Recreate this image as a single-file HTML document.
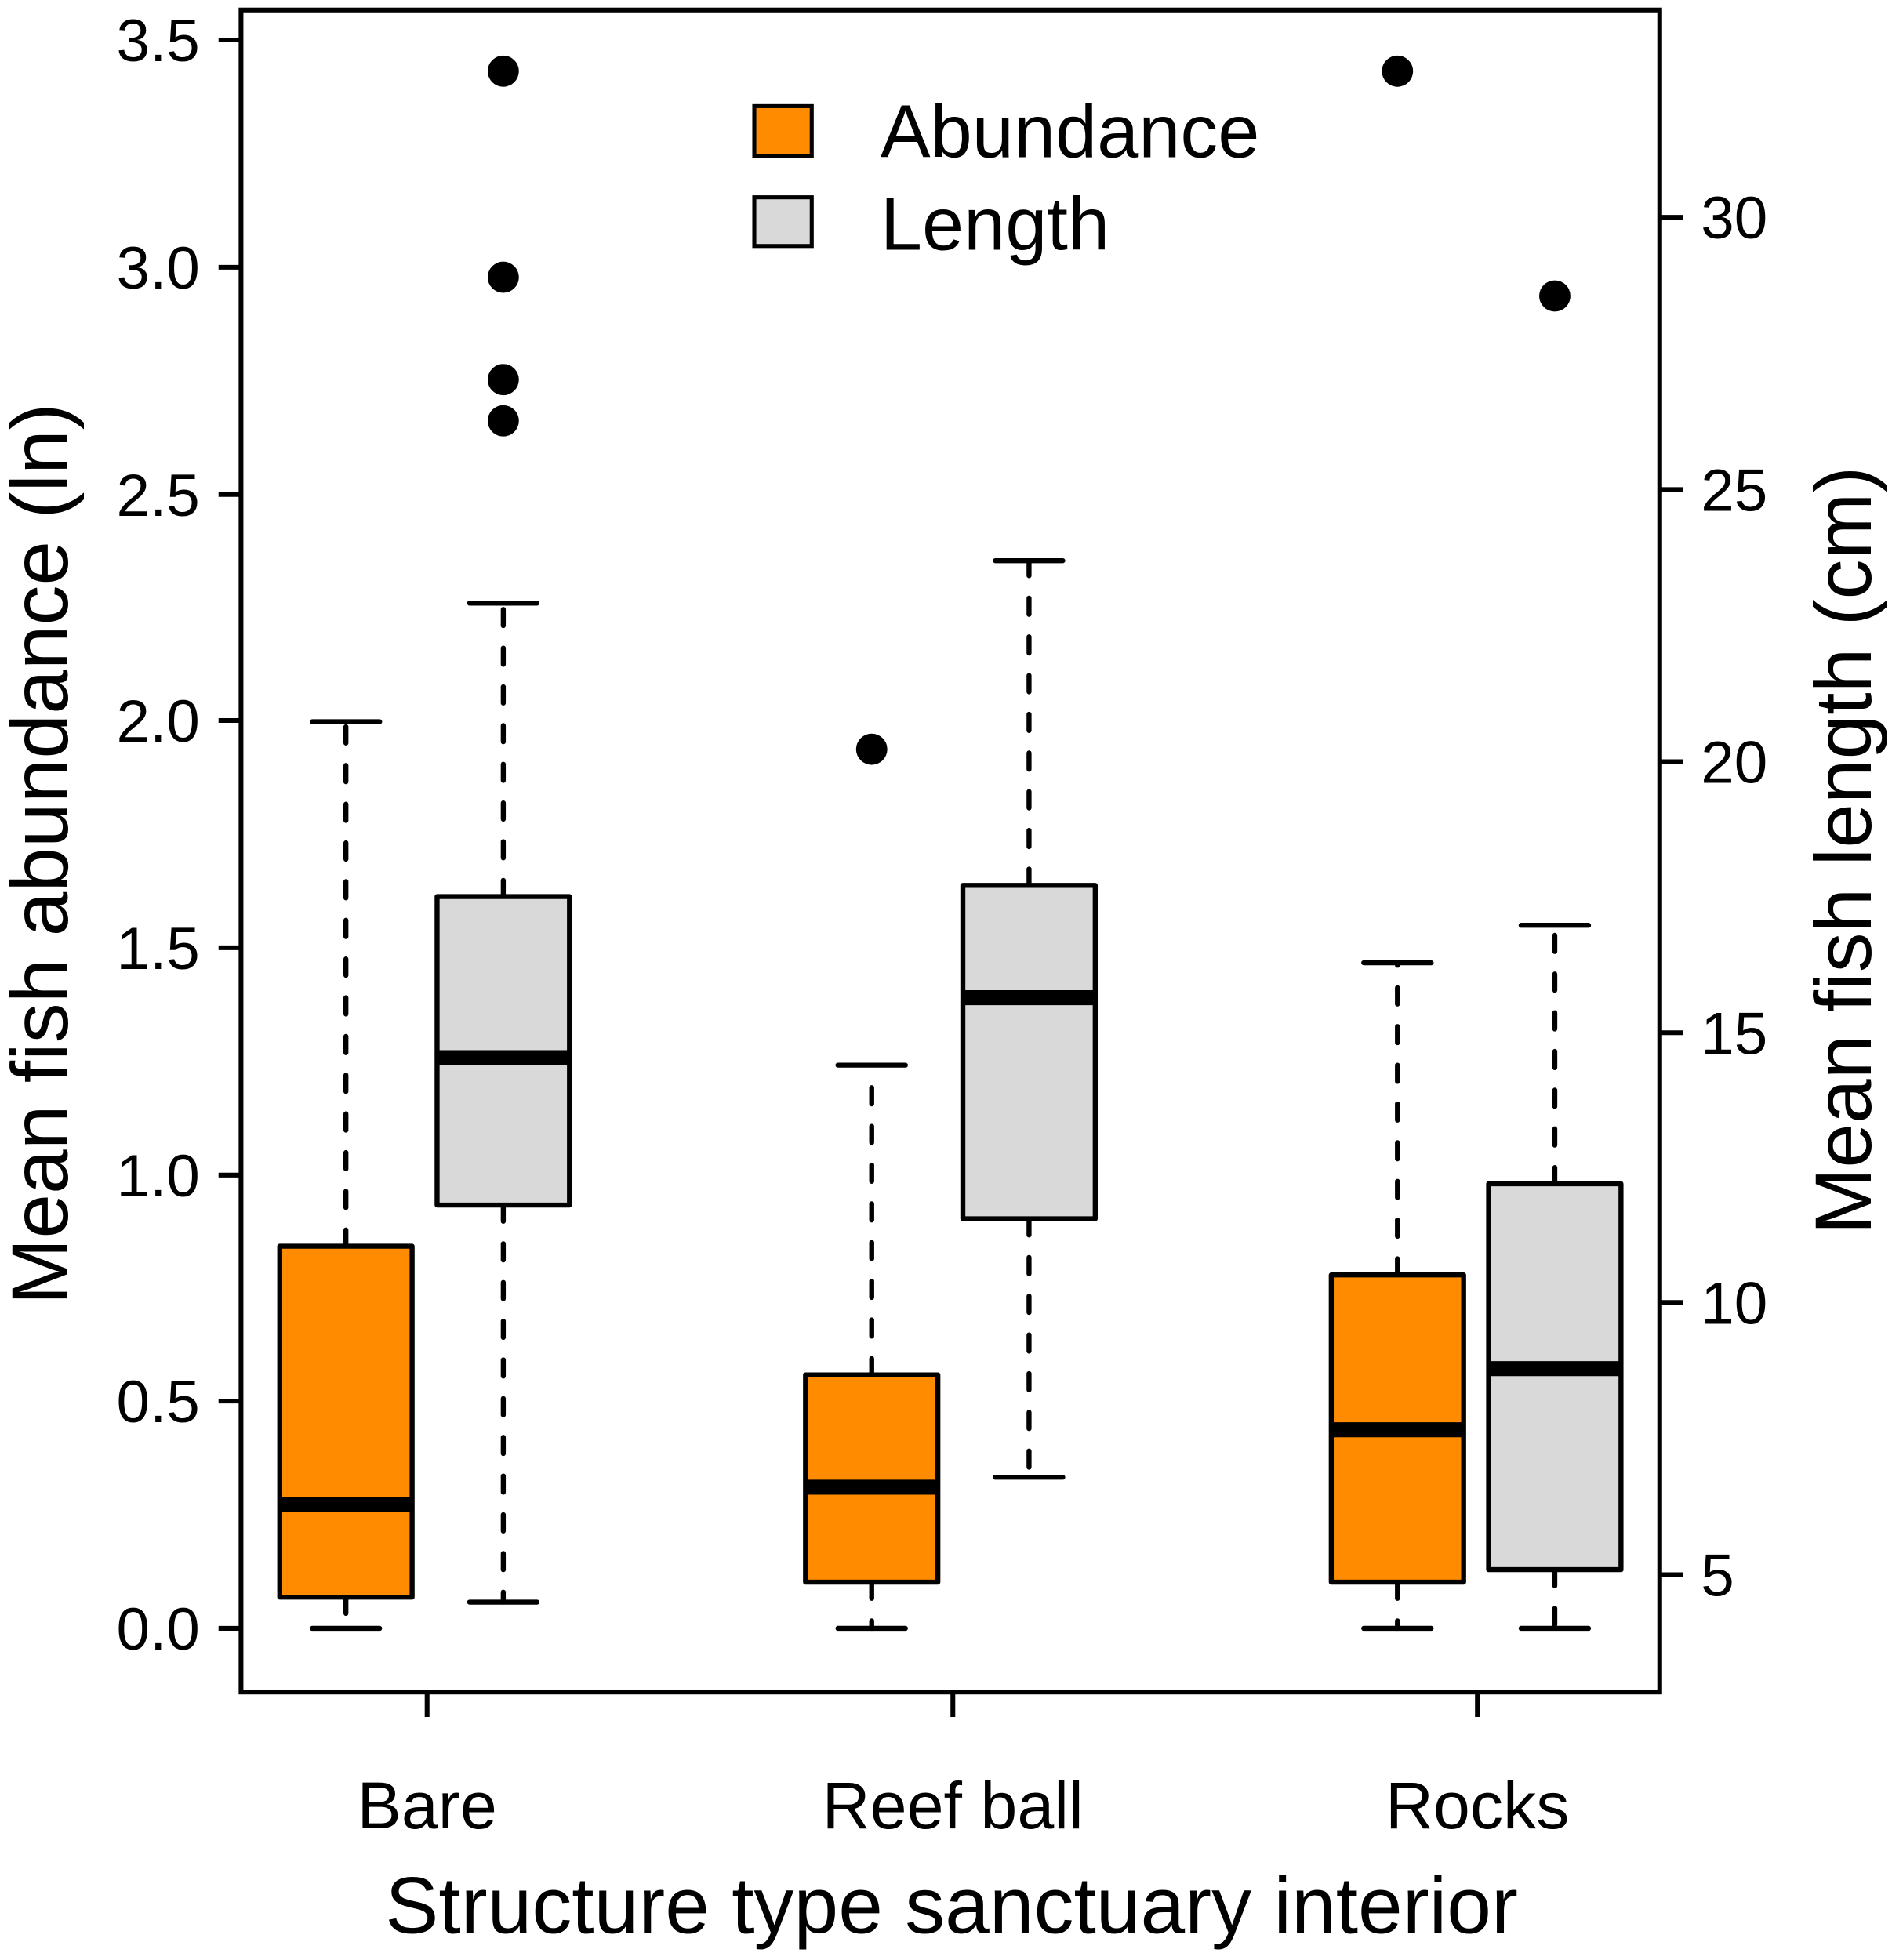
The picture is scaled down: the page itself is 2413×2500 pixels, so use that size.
<!DOCTYPE html>
<html><head><meta charset="utf-8"><style>html,body{margin:0;padding:0;background:#fff}svg{display:block}</style></head>
<body>
<svg width="2413" height="2500" viewBox="0 0 1515 1569.6" preserveAspectRatio="none" xmlns="http://www.w3.org/2000/svg" font-family="Liberation Sans, Arial, sans-serif">
<rect x="193" y="8" width="1136" height="1347" fill="none" stroke="#000" stroke-width="3.8"/>
<g stroke="#000" stroke-width="3.8">
<line x1="175" y1="1304" x2="193" y2="1304"/><line x1="175" y1="1122" x2="193" y2="1122"/><line x1="175" y1="941" x2="193" y2="941"/><line x1="175" y1="759" x2="193" y2="759"/><line x1="175" y1="577" x2="193" y2="577"/><line x1="175" y1="396" x2="193" y2="396"/><line x1="175" y1="214" x2="193" y2="214"/><line x1="175" y1="32" x2="193" y2="32"/>
<line x1="1329" y1="1261" x2="1348" y2="1261"/><line x1="1329" y1="1043" x2="1348" y2="1043"/><line x1="1329" y1="827" x2="1348" y2="827"/><line x1="1329" y1="610" x2="1348" y2="610"/><line x1="1329" y1="392" x2="1348" y2="392"/><line x1="1329" y1="174" x2="1348" y2="174"/>
<line x1="342" y1="1355" x2="342" y2="1375"/><line x1="763" y1="1355" x2="763" y2="1375"/><line x1="1183" y1="1355" x2="1183" y2="1375"/>
</g>
<g font-size="48" text-anchor="end">
<text x="160" y="1321">0.0</text><text x="160" y="1139">0.5</text><text x="160" y="958">1.0</text><text x="160" y="776">1.5</text><text x="160" y="594">2.0</text><text x="160" y="413">2.5</text><text x="160" y="231">3.0</text><text x="160" y="49">3.5</text>
</g>
<g font-size="48">
<text x="1362" y="1278">5</text><text x="1362" y="1060">10</text><text x="1362" y="844">15</text><text x="1362" y="627">20</text><text x="1362" y="409">25</text><text x="1362" y="191">30</text>
</g>
<g font-size="53" text-anchor="middle">
<text x="342" y="1464">Bare</text><text x="763" y="1464">Reef ball</text><text x="1183" y="1464">Rocks</text>
</g>
<text x="762" y="1548" font-size="64" text-anchor="middle">Structure type sanctuary interior</text>
<text transform="translate(54,684) rotate(-90)" font-size="64" text-anchor="middle">Mean fish abundance (ln)</text>
<text transform="translate(1498,681) rotate(-90)" font-size="64" text-anchor="middle">Mean fish length (cm)</text>
<g stroke="#000" stroke-width="4" stroke-linecap="round" fill="none">
<g stroke-dasharray="13 18">
<line x1="277" y1="1279" x2="277" y2="1304"/><line x1="277" y1="998" x2="277" y2="578"/>
<line x1="403" y1="965" x2="403" y2="1283"/><line x1="403" y1="718" x2="403" y2="483"/>
<line x1="698" y1="1267" x2="698" y2="1304"/><line x1="698" y1="1101" x2="698" y2="853"/>
<line x1="824" y1="976" x2="824" y2="1183"/><line x1="824" y1="709" x2="824" y2="449"/>
<line x1="1119" y1="1267" x2="1119" y2="1304"/><line x1="1119" y1="1021" x2="1119" y2="771"/>
<line x1="1245" y1="1257" x2="1245" y2="1304"/><line x1="1245" y1="948" x2="1245" y2="741"/>
</g>
<line x1="250" y1="1304" x2="304" y2="1304"/><line x1="250" y1="578" x2="304" y2="578"/>
<line x1="376" y1="1283" x2="430" y2="1283"/><line x1="376" y1="483" x2="430" y2="483"/>
<line x1="671" y1="1304" x2="725" y2="1304"/><line x1="671" y1="853" x2="725" y2="853"/>
<line x1="797" y1="1183" x2="851" y2="1183"/><line x1="797" y1="449" x2="851" y2="449"/>
<line x1="1092" y1="1304" x2="1146" y2="1304"/><line x1="1092" y1="771" x2="1146" y2="771"/>
<line x1="1218" y1="1304" x2="1272" y2="1304"/><line x1="1218" y1="741" x2="1272" y2="741"/>
</g>
<g stroke="#000" stroke-width="4" stroke-linejoin="round">
<rect x="224" y="998" width="106" height="281" fill="#FF8C00"/>
<rect x="350" y="718" width="106" height="247" fill="#D9D9D9"/>
<rect x="645" y="1101" width="106" height="166" fill="#FF8C00"/>
<rect x="771" y="709" width="106" height="267" fill="#D9D9D9"/>
<rect x="1066" y="1021" width="106" height="246" fill="#FF8C00"/>
<rect x="1192" y="948" width="106" height="309" fill="#D9D9D9"/>
</g>
<g stroke="#000" stroke-width="12">
<line x1="224" y1="1205" x2="330" y2="1205"/><line x1="350" y1="847" x2="456" y2="847"/>
<line x1="645" y1="1191" x2="751" y2="1191"/><line x1="771" y1="799" x2="877" y2="799"/>
<line x1="1066" y1="1145" x2="1172" y2="1145"/><line x1="1192" y1="1096" x2="1298" y2="1096"/>
</g>
<g fill="#000">
<circle cx="403" cy="57" r="12.5"/><circle cx="403" cy="222" r="12.5"/><circle cx="403" cy="304" r="12.5"/><circle cx="403" cy="337" r="12.5"/>
<circle cx="698" cy="600" r="12.5"/><circle cx="1119" cy="57" r="12.5"/><circle cx="1245" cy="237" r="12.5"/>
</g>
<rect x="604" y="85" width="46" height="40" fill="#FF8C00" stroke="#000" stroke-width="3.2"/>
<rect x="604" y="158" width="46" height="39" fill="#D9D9D9" stroke="#000" stroke-width="3.2"/>
<text x="705" y="126" font-size="60">Abundance</text>
<text x="705" y="200" font-size="60">Length</text>
</svg>
</body></html>
